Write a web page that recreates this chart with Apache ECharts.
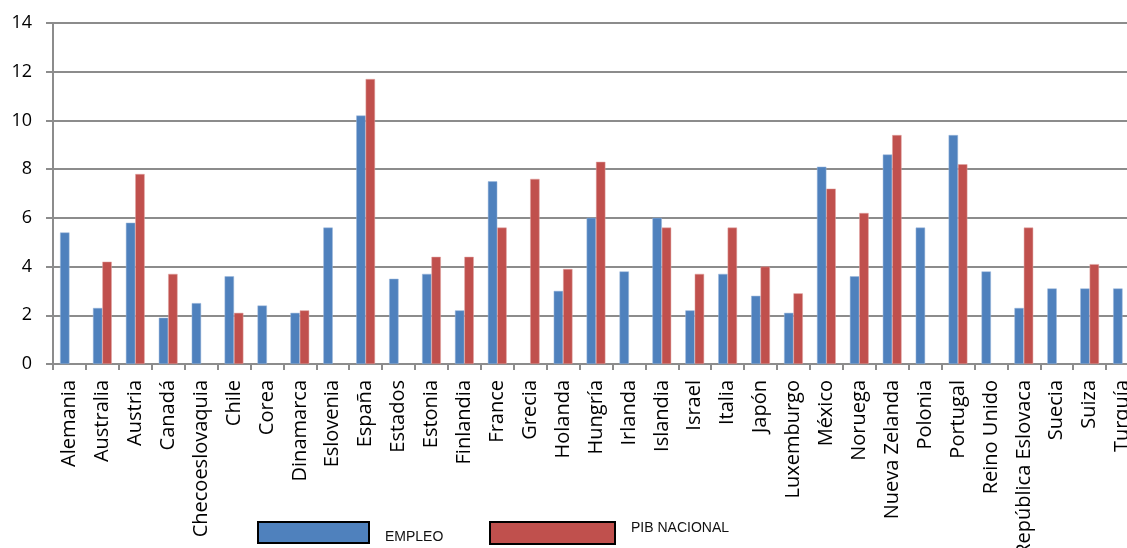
<!DOCTYPE html>
<html>
<head>
<meta charset="utf-8">
<script src="https://cdn.jsdelivr.net/npm/echarts@6/dist/echarts.min.js"></script>
<style>
  html, body { margin: 0; padding: 0; background: #fff; }
  #chart { width: 1127px; height: 548px; }
</style>
</head>
<body>
<div id="chart"></div>
<script>
// datos
var paises = ['Alemania', 'Australia', 'Austria', 'Canadá', 'Checoeslovaquia', 'Chile', 'Corea', 'Dinamarca',
    'Eslovenia', 'España', 'Estados', 'Estonia', 'Finlandia', 'France', 'Grecia', 'Holanda', 'Hungría',
    'Irlanda', 'Islandia', 'Israel', 'Italia', 'Japón', 'Luxemburgo', 'México', 'Noruega', 'Nueva Zelanda',
    'Polonia', 'Portugal', 'Reino Unido', 'República Eslovaca', 'Suecia', 'Suiza', 'Turquía'];
var empleo = [5.4, 2.3, 5.8, 1.9, 2.5, 3.6, 2.4, 2.1, 5.6, 10.2, 3.5, 3.7, 2.2, 7.5, null, 3.0, 6.0,
    3.8, 6.0, 2.2, 3.7, 2.8, 2.1, 8.1, 3.6, 8.6, 5.6, 9.4, 3.8, 2.3, 3.1, 3.1, 3.1];
var pib = [null, 4.2, 7.8, 3.7, null, 2.1, null, 2.2, null, 11.7, null, 4.4, 4.4, 5.6, 7.6, 3.9, 8.3,
    null, 5.6, 3.7, 5.6, 4.0, 2.9, 7.2, 6.2, 9.4, null, 8.2, null, 5.6, null, 4.1, null];

var chart = echarts.init(document.getElementById('chart'));
var gris = '#8c8c8c';
var option = {
    animation: false,
    backgroundColor: '#fff',
    // el grafico original queda cortado a la derecha
    grid: { left: 53, top: 23, bottom: 184, width: 1086, outerBoundsMode: 'none', containLabel: false },
    legend: [{
        data: ['EMPLEO'],
        left: 257, top: 521,
        padding: 0,
        itemWidth: 111, itemHeight: 21, itemGap: 0,
        icon: 'rect',
        itemStyle: { borderColor: '#000', borderWidth: 2 },
        formatter: '{t|{name}}',
        textStyle: {
            fontFamily: 'Liberation Sans', fontSize: 14, color: '#111',
            rich: { t: { fontFamily: 'Liberation Sans', fontSize: 14, color: '#111', padding: [9, 0, 0, 11] } }
        }
    }, {
        data: ['PIB NACIONAL'],
        left: 489, top: 521,
        padding: 0,
        itemWidth: 125, itemHeight: 22, itemGap: 0,
        icon: 'rect',
        itemStyle: { borderColor: '#000', borderWidth: 2 },
        formatter: '{t|{name}}',
        textStyle: {
            fontFamily: 'Liberation Sans', fontSize: 14, color: '#111',
            rich: { t: { fontFamily: 'Liberation Sans', fontSize: 14, color: '#111', padding: [0, 0, 10, 11] } }
        }
    }],
    xAxis: {
        type: 'category',
        data: paises,
        axisLine: { lineStyle: { color: gris, width: 2 } },
        axisTick: { show: true, length: 6, lineStyle: { color: gris, width: 2 } },
        axisLabel: {
            rotate: 90, interval: 0, margin: 16,
            fontFamily: 'Open Sans', fontSize: 20, color: '#000'
        }
    },
    yAxis: {
        type: 'value',
        min: 0, max: 14, interval: 2,
        axisLine: { show: true, lineStyle: { color: gris, width: 2 } },
        axisTick: { show: true, length: 7, lineStyle: { color: gris, width: 2 } },
        splitLine: { lineStyle: { color: gris, width: 2 } },
        axisLabel: { margin: 21, fontFamily: 'Open Sans', fontSize: 18, color: '#000' }
    },
    series: [{
        name: 'EMPLEO',
        type: 'bar',
        data: empleo,
        barGap: 0,
        barCategoryGap: '43%',
        itemStyle: { color: '#4F81BD', borderColor: '#9db8dc', borderWidth: 0.5 }
    }, {
        name: 'PIB NACIONAL',
        type: 'bar',
        data: pib,
        itemStyle: { color: '#C0504D', borderColor: '#e0a5a3', borderWidth: 0.5 }
    }]
};
chart.setOption(option);
</script>
</body>
</html>
